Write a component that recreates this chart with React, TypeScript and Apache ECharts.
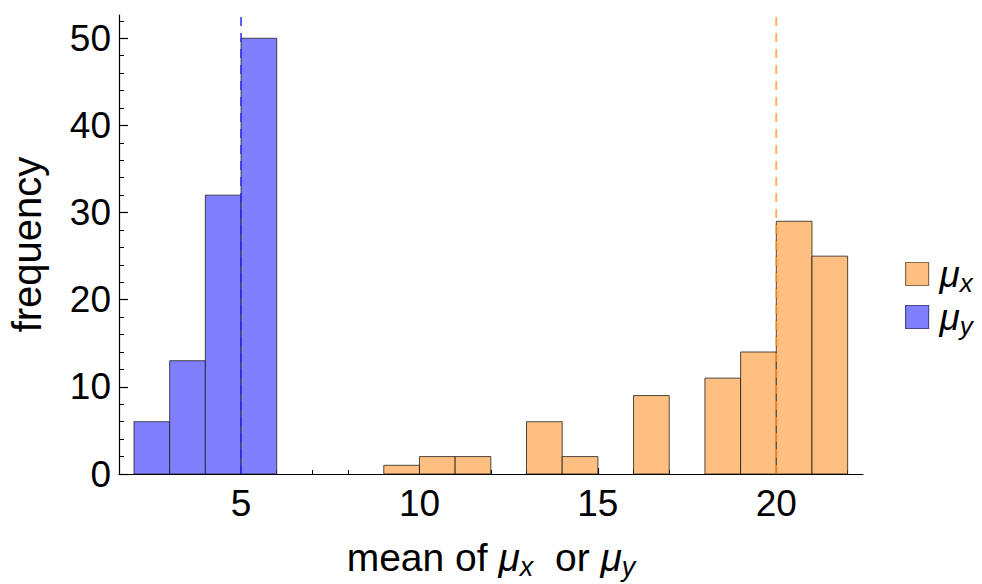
import React, { useEffect, useRef } from "react";
import * as echarts from "echarts";

const binWidth = 1;
const muXBinStarts = [9, 10, 11, 13, 14, 16, 18, 19, 20, 21];
const muXCounts = [1, 2, 2, 6, 2, 9, 11, 14, 29, 25];
const muYBinStarts = [2, 3, 4, 5];
const muYCounts = [6, 13, 32, 50];
const meanMuX = 20;
const meanMuY = 5;
const xTickLabels = [5, 10, 15, 20];
const xMinorTicks = [2, 3, 4, 5, 6, 7, 8, 9, 10, 11, 12, 13, 14, 15, 16, 17, 18, 19, 20, 21, 22];
const yTickLabels = [0, 10, 20, 30, 40, 50];
const yMinorTicks = [0, 2, 4, 6, 8, 10, 12, 14, 16, 18, 20, 22, 24, 26, 28, 30, 32, 34, 36, 38, 40, 42, 44, 46, 48, 50, 52];

const X_MIN = 1.58;
const X_MAX = 22.43;
const Y_MIN = 0;
const Y_MAX = 52.67;
const LINE_TOP = 53.2;

const ORANGE = "#ffbf80";
const BLUE = "#8080ff";
const FONT = "Liberation Sans, Arial, sans-serif";

function toBins(starts: number[], counts: number[]) {
  return starts.map((s, i) => [s, s + binWidth, counts[i]]);
}

function renderBar(fill: string) {
  return (params: any, api: any) => {
    const x0 = api.value(0);
    const x1 = api.value(1);
    const c = api.value(2);
    const p0 = api.coord([x0, c]);
    const p1 = api.coord([x1, 0]);
    return {
      type: "rect",
      shape: { x: p0[0], y: p0[1], width: p1[0] - p0[0], height: p1[1] - p0[1] },
      style: { fill, stroke: "rgba(20,20,20,0.75)", lineWidth: 1 },
    };
  };
}

const subRich = {
  n: { fontSize: 39, fontFamily: FONT, color: "#000", lineHeight: 42 },
  m: { fontSize: 39, fontFamily: FONT, fontStyle: "italic", color: "#000", lineHeight: 42 },
  s: { fontSize: 27, fontFamily: FONT, fontStyle: "italic", color: "#000", lineHeight: 42, padding: [20, 0, 0, 0] },
};

export default function App() {
  const ref = useRef<HTMLDivElement>(null);
  useEffect(() => {
    if (!ref.current) return;
    const chart = echarts.init(ref.current, null, { renderer: "svg" });
    const xAxisBase = { type: "value", min: X_MIN, max: X_MAX, position: "bottom" };
    const yAxisBase = { type: "value", min: Y_MIN, max: Y_MAX, position: "left" };
    chart.setOption({
      animation: false,
      backgroundColor: "#fff",
      grid: { left: 119, right: 119, top: 15, bottom: 110, containLabel: false, outerBoundsMode: "none" },
      xAxis: [
        {
          ...xAxisBase,
          splitLine: { show: false },
          axisLine: { show: true, lineStyle: { color: "#000", width: 1.2 } },
          axisTick: { show: true, inside: true, length: 6, customValues: xTickLabels, lineStyle: { color: "#000", width: 1.2 } },
          axisLabel: { customValues: xTickLabels, fontSize: 37, fontFamily: FONT, color: "#000", margin: 11 },
          name: "{n|mean of }{m|μ}{s|x}{n|  or }{m|μ}{s|y}",
          nameLocation: "middle",
          nameGap: 62,
          nameTextStyle: { rich: subRich },
        },
        {
          ...xAxisBase,
          splitLine: { show: false },
          axisLine: { show: false },
          axisTick: { show: true, inside: true, length: 4, customValues: xMinorTicks, lineStyle: { color: "#000", width: 1 } },
          axisLabel: { show: false },
        },
      ],
      yAxis: [
        {
          ...yAxisBase,
          splitLine: { show: false },
          axisLine: { show: true, lineStyle: { color: "#000", width: 1.2 } },
          axisTick: { show: true, inside: true, length: 9, customValues: yTickLabels, lineStyle: { color: "#000", width: 1.2 } },
          axisLabel: { customValues: yTickLabels, fontSize: 37, fontFamily: FONT, color: "#000", margin: 8 },
          name: "frequency",
          nameLocation: "middle",
          nameGap: 72,
          nameTextStyle: { fontSize: 40, fontFamily: FONT, color: "#000" },
        },
        {
          ...yAxisBase,
          splitLine: { show: false },
          axisLine: { show: false },
          axisTick: { show: true, inside: true, length: 5, customValues: yMinorTicks, lineStyle: { color: "#000", width: 1 } },
          axisLabel: { show: false },
        },
      ],
      legend: {
        orient: "vertical",
        left: 900,
        top: 247,
        itemWidth: 23,
        itemHeight: 23,
        itemGap: -1,
        data: [
          { name: "μx", icon: "rect", itemStyle: { color: ORANGE, borderColor: "#8a6a4a", borderWidth: 1.2 } },
          { name: "μy", icon: "rect", itemStyle: { color: BLUE, borderColor: "#4a4a8a", borderWidth: 1.2 } },
        ],
        formatter: (name: string) => `{m|${name.slice(0, 1)}}{s|${name.slice(1)}}`,
        textStyle: {
          rich: {
            m: { fontSize: 37, fontFamily: FONT, fontStyle: "italic", color: "#000", lineHeight: 30, padding: [0, 0, 0, 6] },
            s: { fontSize: 26, fontFamily: FONT, fontStyle: "italic", color: "#000", lineHeight: 30, padding: [18, 0, 0, 0] },
          },
        },
      },
      series: [
        {
          name: "μx",
          type: "custom",
          xAxisIndex: 0,
          yAxisIndex: 0,
          renderItem: renderBar(ORANGE),
          itemStyle: { color: ORANGE },
          encode: { x: [0, 1], y: 2 },
          data: toBins(muXBinStarts, muXCounts),
          z: 2,
        },
        {
          name: "μy",
          type: "custom",
          xAxisIndex: 0,
          yAxisIndex: 0,
          renderItem: renderBar(BLUE),
          itemStyle: { color: BLUE },
          encode: { x: [0, 1], y: 2 },
          data: toBins(muYBinStarts, muYCounts),
          z: 2,
        },
        {
          name: "meanY",
          type: "line",
          xAxisIndex: 0,
          yAxisIndex: 0,
          clip: false,
          symbol: "none",
          silent: true,
          data: [[meanMuY, 0], [meanMuY, LINE_TOP]],
          lineStyle: { color: "#2a2aff", width: 1.5, type: [9, 7] },
          z: 5,
        },
        {
          name: "meanX",
          type: "line",
          xAxisIndex: 0,
          yAxisIndex: 0,
          clip: false,
          symbol: "none",
          silent: true,
          data: [[meanMuX, 0], [meanMuX, LINE_TOP]],
          lineStyle: { color: "rgba(255,150,40,0.75)", width: 2, type: [9, 7] },
          z: 5,
        },
      ],
    });
    return () => chart.dispose();
  }, []);
  return <div ref={ref} style={{ width: 982, height: 584, position: "absolute", left: 0, top: 0 }} />;
}
